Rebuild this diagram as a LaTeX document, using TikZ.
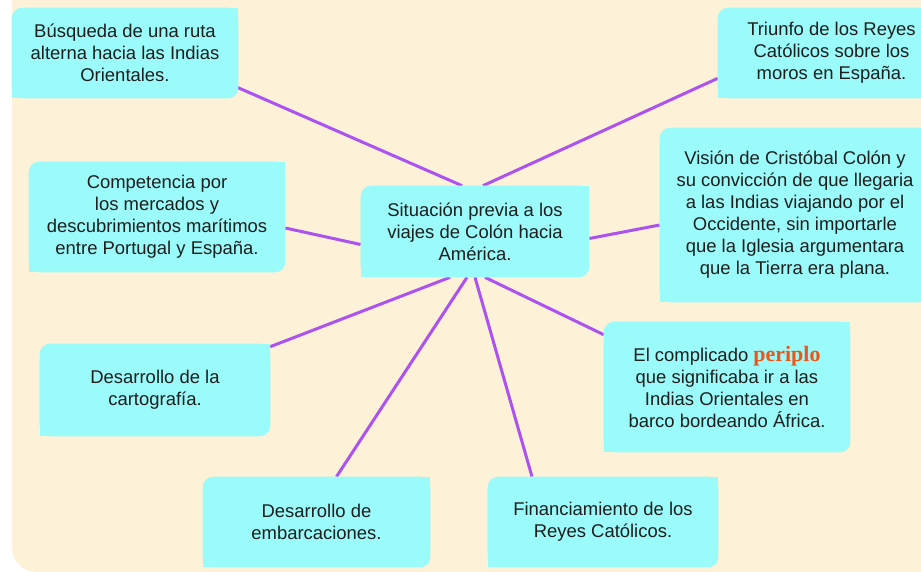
\documentclass[tikz,border=0pt]{standalone}
\usepackage{fontspec}
\setmainfont{Liberation Sans}
\newfontfamily\periplofont{Liberation Serif}
\usepackage{xcolor}
\usepackage{tikz}
\usetikzlibrary{calc}

\definecolor{fondo}{RGB}{253,242,215}
\definecolor{caja}{RGB}{155,250,250}
\definecolor{linea}{RGB}{172,82,240}
\definecolor{naranja}{RGB}{238,84,24}
\definecolor{texto}{RGB}{30,30,30}

\pgfdeclarelayer{lineas}
\pgfdeclarelayer{cajas}
\pgfsetlayers{lineas,cajas,main}

% caja con esquinas redondeadas arriba-izq. y abajo-der.
\newcommand{\cajafondo}[1]{%
  \fill[caja, rounded corners=6pt] (#1.south west) rectangle (#1.north east);
  \fill[caja] ([xshift=-7pt,yshift=-7pt]#1.north east) rectangle (#1.north east);
  \fill[caja] (#1.south west) rectangle ([xshift=7pt,yshift=7pt]#1.south west);}

\begin{document}
\begin{tikzpicture}[x=0.02cm, y=-0.02cm,
  tema/.style={align=center, text=texto, inner sep=2pt, font=\fontsize{10.5}{12.5}\selectfont},
  rama/.style={draw=linea, line width=1.7pt}]
\useasboundingbox (0,0) rectangle (921,572);
\clip (0,0) rectangle (921,572);

\node[tema, minimum width=4.52cm, minimum height=1.8cm] (busqueda) at (125,53)
  {Búsqueda de una ruta\\alterna hacia las Indias\\Orientales.};
\node[tema, minimum width=4.54cm, minimum height=1.8cm] (triunfo) at (831.5,53)
  {Triunfo de los Reyes\\Católicos sobre los\\moros en España.};
\node[tema, minimum width=5.12cm, minimum height=2.2cm] (competencia) at (157,217)
  {Competencia por\\los mercados y\\descubrimientos marítimos\\entre Portugal y España.};
\node[tema, minimum width=4.56cm, minimum height=1.82cm] (situacion) at (475,231.5)
  {Situación previa a los\\viajes de Colón hacia\\América.};
\node[tema, minimum width=5.4cm, minimum height=3.48cm] (vision) at (795,215)
  {Visión de Cristóbal Colón y\\su convicción de que llegaria\\a las Indias viajando por el\\Occidente, sin importarle\\que la Iglesia argumentara\\que la Tierra era plana.};
\node[tema, minimum width=4.6cm, minimum height=1.84cm] (cartografia) at (155,390)
  {Desarrollo de la\\cartografía.};
\node[tema, minimum width=4.92cm, minimum height=2.6cm] (periplo) at (727,387)
  {El complicado {\periplofont\bfseries\fontsize{12.5}{12.5}\selectfont\color{naranja}periplo}\\que significaba ir a las\\Indias Orientales en\\barco bordeando África.};
\node[tema, minimum width=4.54cm, minimum height=1.8cm] (embarcaciones) at (316.5,522)
  {Desarrollo de\\embarcaciones.};
\node[tema, minimum width=4.6cm, minimum height=1.8cm] (financiamiento) at (603,522)
  {Financiamiento de los\\Reyes Católicos.};

\begin{pgfonlayer}{lineas}
\fill[white] (0,0) rectangle (921,572);
\fill[fondo, rounded corners=14pt] (12,-40) rectangle (960,572);

\draw[rama] ($(situacion.north)+(-13,0)$) -- ($(busqueda.south east)+(-1,-11)$);
\draw[rama] ($(situacion.north)+(8,0)$) -- ($(triunfo.south west)+(0,-20)$);
\draw[rama] ($(situacion.west)+(0,13)$) -- ($(competencia.east)+(0,11)$);
\draw[rama] ($(situacion.east)+(0,7)$) -- ($(vision.west)+(0,10)$);
\draw[rama] ($(situacion.south)+(-25,0)$) -- ($(cartografia.north east)+(0,3)$);
\draw[rama] ($(situacion.south)+(-8,0)$) -- ($(embarcaciones.north)+(20,0)$);
\draw[rama] (situacion.south) -- ($(financiamiento.north)+(-71,0)$);
\draw[rama] ($(situacion.south)+(10,0)$) -- ($(periplo.north west)+(0,13)$);
\end{pgfonlayer}

\begin{pgfonlayer}{cajas}
\foreach \n in {busqueda,triunfo,competencia,situacion,vision,cartografia,periplo,embarcaciones,financiamiento}
  {\cajafondo{\n}}
\end{pgfonlayer}
\end{tikzpicture}
\end{document}
